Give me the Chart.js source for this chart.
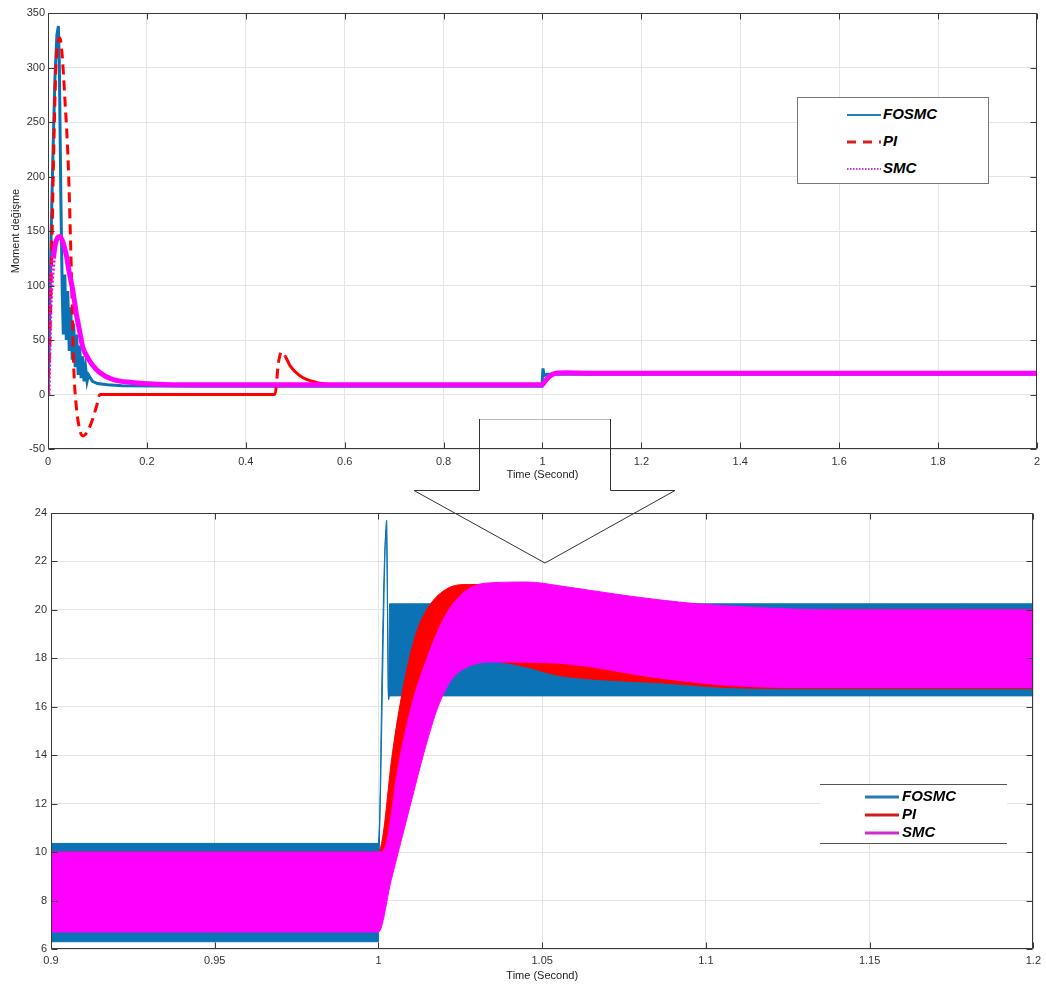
<!DOCTYPE html>
<html lang="tr">
<head>
<meta charset="utf-8">
<title>Moment değişme</title>
<script src="https://cdn.jsdelivr.net/npm/chart.js@4.4.1/dist/chart.umd.min.js"></script>
<style>
  body { margin: 0; background: #fff; }
  #wrap { position: relative; width: 1046px; height: 985px; overflow: hidden; }
  canvas { position: absolute; left: 0; }
  .legend { position: absolute; background: #fff; font: italic bold 15px "Liberation Sans", Arial, sans-serif; color: #000; }
  .legend .row { position: absolute; height: 18px; line-height: 18px; white-space: nowrap; }
  .legend svg { position: absolute; }
  #arrow { position: absolute; left: 0; top: 0; pointer-events: none; }
</style>
</head>
<body>
<div id="wrap">
  <canvas id="topChart" width="1046" height="487" style="top:0"></canvas>
  <canvas id="bottomChart" width="1046" height="498" style="top:487px"></canvas>

  <svg id="arrow" width="1046" height="985">
    <line x1="479" y1="419.5" x2="610" y2="419.5" stroke="#bbb" stroke-width="1"/>
    <polyline points="479.5,419 479.5,490.5 414,490.5 545,563 675,490.5 610.5,490.5 610.5,419"
              fill="none" stroke="#333" stroke-width="1"/>
  </svg>

  <div class="legend" style="left:797px;top:97px;width:190px;height:85px;border:1px solid #777;">
    <svg style="left:49px;top:14px" width="34" height="6"><line x1="0" y1="3" x2="34" y2="3" stroke="#1f7fc0" stroke-width="2"/></svg>
    <div class="row" style="left:85px;top:7px">FOSMC</div>
    <svg style="left:49px;top:41px" width="34" height="6"><line x1="0" y1="3" x2="34" y2="3" stroke="#d42020" stroke-width="3" stroke-dasharray="9,7"/></svg>
    <div class="row" style="left:85px;top:34px">PI</div>
    <svg style="left:49px;top:68px" width="34" height="6"><line x1="0" y1="3" x2="34" y2="3" stroke="#c040d0" stroke-width="2" stroke-dasharray="1.5,1.5"/></svg>
    <div class="row" style="left:85px;top:61px">SMC</div>
  </div>

  <div class="legend" style="left:820px;top:784px;width:187px;height:58px;border-top:1px solid #555;border-bottom:1px solid #555;">
    <svg style="left:45px;top:9px" width="34" height="6"><line x1="0" y1="3" x2="34" y2="3" stroke="#2a79b0" stroke-width="3"/></svg>
    <div class="row" style="left:82px;top:2px">FOSMC</div>
    <svg style="left:45px;top:27px" width="34" height="6"><line x1="0" y1="3" x2="34" y2="3" stroke="#d41c1c" stroke-width="3"/></svg>
    <div class="row" style="left:82px;top:20px">PI</div>
    <svg style="left:45px;top:45px" width="34" height="6"><line x1="0" y1="3" x2="34" y2="3" stroke="#d22ad2" stroke-width="3"/></svg>
    <div class="row" style="left:82px;top:38px">SMC</div>
  </div>
</div>

<script>
// ---- data: top panel (0 .. 2 s) ----
var topXTicks = [0, 0.2, 0.4, 0.6, 0.8, 1, 1.2, 1.4, 1.6, 1.8, 2];
var topYTicks = [-50, 0, 50, 100, 150, 200, 250, 300, 350];

var fosmcT = [0, 0.003, 0.006, 0.01, 0.014, 0.018, 0.021, 0.023, 0.026, 0.029, 0.031, 0.034, 0.037, 0.040, 0.043, 0.046,
  0.049, 0.052, 0.055, 0.058, 0.061, 0.064, 0.067, 0.070, 0.073, 0.076, 0.079, 0.082, 0.09, 0.1, 0.12, 0.15, 0.3, 0.999,
  1.001, 1.003, 1.008, 2];
var fosmcV = [0, 60, 140, 220, 290, 330, 338, 300, 180, 90, 55, 110, 50, 95, 40, 80,
  32, 65, 25, 55, 18, 45, 15, 35, 12, 25, 12, 18, 12, 10, 9, 8, 7.6, 7.6,
  24, 17, 18.5, 18.5];

var piT = [0, 0.004, 0.008, 0.011, 0.016, 0.02, 0.024, 0.028, 0.034, 0.041, 0.047, 0.052, 0.056, 0.064, 0.071, 0.085,
  0.098, 0.105, 0.2, 0.3, 0.4, 0.459, 0.466, 0.4726, 0.48, 0.49, 0.51, 0.543, 0.577, 0.62, 0.8, 1.0, 1.01, 1.02, 1.035,
  1.06, 1.1, 2];
var piV = [0, 57, 140, 211, 300, 322, 327, 315, 272, 211, 117, 26, -5, -32, -38, -29,
  -11, 0, 0, 0, 0, 0, 29, 39, 35, 26, 17, 11, 9, 8.6, 8.6, 8.6, 14, 18.5, 20,
  19.6, 19.2, 19.2];

var smcT = [0, 0.002, 0.004, 0.007, 0.011, 0.016, 0.024, 0.03, 0.037, 0.043, 0.05, 0.057, 0.064, 0.07, 0.08, 0.09,
  0.105, 0.13, 0.17, 0.22, 0.3, 0.999, 1.005, 1.015, 1.03, 1.05, 1.1, 2];
var smcV = [0, 40, 80, 105, 125, 140, 145, 140, 128, 112, 96, 75, 58, 44, 34, 27,
  20, 14, 11, 9.5, 9, 9, 12, 17, 19.8, 20, 19.5, 19.5];

// ---- data: bottom panel (0.9 .. 1.2 s), envelopes of the chattering bands ----
var botXTicks = [0.9, 0.95, 1, 1.05, 1.1, 1.15, 1.2];
var botYTicks = [6, 8, 10, 12, 14, 16, 18, 20, 22, 24];

var fosmcHiT = [0.9, 1.0, 1.0025, 1.0031, 1.0034, 1.2];
var fosmcHiV = [10.36, 10.36, 23.7, 16.3, 20.25, 20.25];
var fosmcLoT = [0.9, 1.0, 1.0003, 1.0024, 1.0031, 1.0034, 1.2];
var fosmcLoV = [6.3, 6.3, 10.3, 23.3, 16.3, 16.45, 16.45];

var piHiT = [0.9, 1.0, 1.0015, 1.0039, 1.007, 1.0112, 1.0152, 1.0213, 1.0274, 1.04, 1.047, 1.06, 1.08, 1.1, 1.13, 1.2];
var piHiV = [10.0, 10.0, 10.8, 13.7, 16.4, 18.9, 20.1, 20.9, 21.05, 21.05, 21.0, 20.8, 20.4, 20.1, 20.0, 20.0];
var piLoT = [0.9, 1.0, 1.0039, 1.0091, 1.0143, 1.0182, 1.0222, 1.0273, 1.0325, 1.045, 1.0547, 1.07, 1.0851, 1.1055, 1.13, 1.2];
var piLoV = [6.75, 6.75, 9.5, 12.5, 15.0, 16.5, 17.4, 17.8, 17.9, 17.65, 17.3, 17.1, 17.0, 16.8, 16.75, 16.75];

var smcHiT = [0.9, 1.0, 1.002, 1.006, 1.010, 1.0143, 1.0192, 1.0243, 1.0325, 1.0456, 1.055, 1.075, 1.095, 1.115, 1.14, 1.2];
var smcHiV = [10.0, 10.0, 10.2, 13.5, 16.0, 17.8, 19.45, 20.5, 21.1, 21.15, 21.0, 20.6, 20.28, 20.1, 20.0, 20.0];
var smcLoT = [0.9, 1.0, 1.0039, 1.0091, 1.0143, 1.0182, 1.0222, 1.0273, 1.0343, 1.0547, 1.0851, 1.1055, 1.1255, 1.2];
var smcLoV = [6.7, 6.7, 8.85, 11.6, 14.3, 16.0, 17.1, 17.65, 17.85, 17.8, 17.2, 16.9, 16.8, 16.8];

var BLUE = '#0b72b5', RED = '#ff0000', MAG = '#ff00ff';

function pts(t, v) {
  return t.map(function (x, i) { return { x: x, y: v[i] }; });
}
function fmt(v) { return String(+Number(v).toFixed(3)); }

// matlab-like box with inward tick marks
var framePlugin = {
  id: 'frame',
  afterDatasetsDraw: function (chart) {
    var ctx = chart.ctx, a = chart.chartArea, sx = chart.scales.x, sy = chart.scales.y;
    var L = Math.round(a.left) + 0.5, R = Math.round(a.right) - 0.5, T = Math.round(a.top) + 0.5, B = Math.round(a.bottom) - 0.5;
    ctx.save();
    ctx.strokeStyle = '#3a3a3a';
    ctx.lineWidth = 1;
    ctx.beginPath();
    ctx.rect(L, T, R - L, B - T);
    sx.ticks.forEach(function (t) {
      var x = Math.round(sx.getPixelForValue(t.value)) + 0.5;
      ctx.moveTo(x, B); ctx.lineTo(x, B - 6);
      ctx.moveTo(x, T); ctx.lineTo(x, T + 6);
    });
    sy.ticks.forEach(function (t) {
      var y = Math.round(sy.getPixelForValue(t.value)) + 0.5;
      ctx.moveTo(L, y); ctx.lineTo(L + 6, y);
      ctx.moveTo(R, y); ctx.lineTo(R - 6, y);
    });
    ctx.stroke();
    ctx.restore();
  }
};

var tickFont = { family: '"Liberation Sans", Arial, sans-serif', size: 11 };

function axes(cfg) {
  return {
    x: {
      type: 'linear', min: cfg.xMin, max: cfg.xMax,
      afterBuildTicks: function (s) { s.ticks = cfg.xTicks.map(function (v) { return { value: v }; }); },
      afterFit: function (s) { s.height = cfg.xH; },
      grid: { color: '#e4e4e4', drawTicks: false },
      border: { display: false },
      ticks: { font: tickFont, color: '#333', padding: cfg.xPad, maxRotation: 0, autoSkip: false, callback: fmt },
      title: { display: true, text: 'Time (Second)', font: tickFont, color: '#222', padding: { top: 0, bottom: cfg.titlePad } }
    },
    y: {
      type: 'linear', min: cfg.yMin, max: cfg.yMax,
      afterBuildTicks: function (s) { s.ticks = cfg.yTicks.map(function (v) { return { value: v }; }); },
      afterFit: function (s) { s.width = cfg.yW; },
      grid: { color: '#e4e4e4', drawTicks: false },
      border: { display: false },
      ticks: { font: tickFont, color: '#333', padding: cfg.yPad, autoSkip: false, callback: fmt },
      title: cfg.yTitle ? { display: true, text: cfg.yTitle, font: tickFont, color: '#222', padding: { top: 9, bottom: 0 } } : { display: false }
    }
  };
}

var common = {
  responsive: false, animation: false, devicePixelRatio: 1,
  elements: { point: { radius: 0, hitRadius: 0 } },
  plugins: { legend: { display: false }, tooltip: { enabled: false } },
  events: []
};

// top panel
new Chart(document.getElementById('topChart'), {
  type: 'line',
  data: {
    datasets: [
      { label: 'FOSMC', data: pts(fosmcT, fosmcV), borderColor: BLUE, borderWidth: 3, order: 3, tension: 0 },
      { label: 'PI', data: pts(piT, piV), borderColor: RED, borderWidth: 3, order: 2, cubicInterpolationMode: 'monotone',
        borderDash: [10, 6],
        segment: {
          borderDash: function (c) {
            var x = c.p0.parsed.x;
            return (x >= 0.104 && x < 0.459) || x >= 0.474 ? [] : [10, 6];
          }
        } },
      { label: 'SMC', data: pts(smcT, smcV), borderColor: MAG, borderWidth: 5, order: 1, cubicInterpolationMode: 'monotone',
        segment: { borderDash: function (c) { return c.p0.parsed.x < 0.011 ? [2, 2] : []; } } }
    ]
  },
  options: Object.assign({}, common, {
    layout: { padding: { top: 13, right: 9, left: 0, bottom: 0 } },
    scales: axes({ xMin: 0, xMax: 2, xTicks: topXTicks, yMin: -50, yMax: 350, yTicks: topYTicks,
      xH: 38, yW: 48, xPad: 6, yPad: 3, titlePad: 5, yTitle: 'Moment değişme' })
  }),
  plugins: [framePlugin]
});

// bottom panel: chattering bands filled between upper/lower envelopes
function band(label, hiT, hiV, loT, loV, color, order, hiIndex) {
  return [
    { label: label, data: pts(hiT, hiV), borderColor: color, backgroundColor: color, borderWidth: 1,
      order: order, cubicInterpolationMode: 'monotone', fill: false },
    { label: label + ' low', data: pts(loT, loV), borderColor: color, backgroundColor: color, borderWidth: 1,
      order: order, cubicInterpolationMode: 'monotone', fill: hiIndex }
  ];
}

new Chart(document.getElementById('bottomChart'), {
  type: 'line',
  data: {
    datasets: [].concat(
      band('FOSMC', fosmcHiT, fosmcHiV, fosmcLoT, fosmcLoV, BLUE, 3, 0),
      band('PI', piHiT, piHiV, piLoT, piLoV, RED, 2, 2),
      band('SMC', smcHiT, smcHiV, smcLoT, smcLoV, MAG, 1, 4)
    )
  },
  options: Object.assign({}, common, {
    layout: { padding: { top: 26, right: 6, left: 0, bottom: 0 } },
    scales: axes({ xMin: 0.9, xMax: 1.2, xTicks: botXTicks, yMin: 6, yMax: 24, yTicks: botYTicks,
      xH: 36, yW: 51, xPad: 5, yPad: 4, titlePad: 2, yTitle: null })
  }),
  plugins: [framePlugin]
});
</script>
</body>
</html>
